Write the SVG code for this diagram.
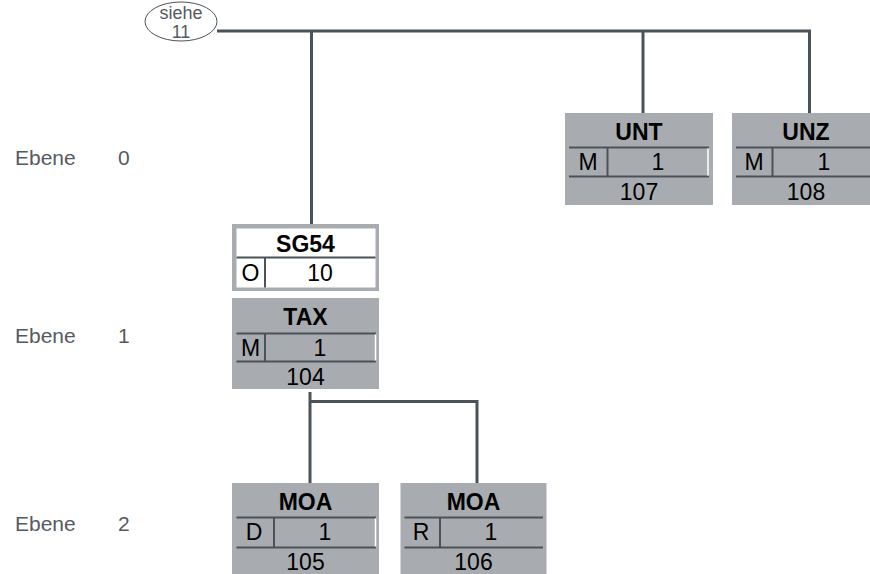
<svg xmlns="http://www.w3.org/2000/svg" width="870" height="574" viewBox="0 0 870 574">
<style>
.box{fill:#a8acb1}
.cl{stroke:#4b5258;stroke-width:2;fill:none}
.wl{stroke:#ffffff;stroke-width:1.5;fill:none}
.con{stroke:#4b5258;stroke-width:3;fill:none}
.h{font-family:"Liberation Sans",Arial,sans-serif;font-size:23px;font-weight:bold;fill:#000;text-anchor:middle}
.t{font-family:"Liberation Sans",Arial,sans-serif;font-size:23px;fill:#000;text-anchor:middle}
.lv{font-family:"Liberation Sans",Arial,sans-serif;font-size:21px;fill:#555a5f}
.el{font-family:"Liberation Sans",Arial,sans-serif;font-size:18px;fill:#555a5f;text-anchor:middle}
</style>
<rect width="870" height="574" fill="#ffffff"/>
<g id="levels">
<text class="lv" x="15" y="164.5">Ebene</text><text class="lv" x="118" y="164.5">0</text>
<text class="lv" x="15" y="342.5">Ebene</text><text class="lv" x="118" y="342.5">1</text>
<text class="lv" x="15" y="530.5">Ebene</text><text class="lv" x="118" y="530.5">2</text>
</g>
<g id="connectors">
<path class="con" d="M217,31 H811"/>
<path class="con" d="M311.5,31 V224"/>
<path class="con" d="M643,31 V113"/>
<path class="con" d="M809.5,31 V113"/>
<path class="con" d="M310,392 V483"/>
<path class="con" d="M310,401.5 H477 V483"/>
</g>
<g id="siehe">
<ellipse cx="181" cy="21.5" rx="36" ry="19.5" fill="#ffffff" stroke="#4b5258" stroke-width="1"/>
<text class="el" x="181" y="19">siehe</text>
<text class="el" x="181" y="37.5">11</text>
</g>
<g id="UNT">
<rect class="box" x="565" y="113" width="148" height="92"/>
<path class="cl" d="M569,147.5 H709 M569,176.5 H709 M607.5,147.5 V176.5"/>
<path class="wl" d="M708,148.5 V175.5"/>
<text class="h" x="639" y="140">UNT</text>
<text class="t" x="588" y="170">M</text>
<text class="t" x="658" y="170">1</text>
<text class="t" x="639" y="200">107</text>
</g>
<g id="UNZ">
<rect class="box" x="732" y="113" width="148" height="92"/>
<path class="cl" d="M736,147.5 H876 M736,176.5 H876 M772.5,147.5 V176.5"/>
<text class="h" x="806" y="140">UNZ</text>
<text class="t" x="754" y="170">M</text>
<text class="t" x="824" y="170">1</text>
<text class="t" x="806" y="200">108</text>
</g>
<g id="SG54">
<rect class="box" x="232" y="224" width="147" height="67"/>
<rect x="236.5" y="228.5" width="139" height="59" fill="#ffffff"/>
<path class="cl" d="M236.5,257.5 H375.5 M265,257.5 V287.5"/>
<text class="h" x="305.5" y="251.5">SG54</text>
<text class="t" x="250.5" y="281">O</text>
<text class="t" x="320" y="281">10</text>
</g>
<g id="TAX">
<rect class="box" x="232" y="298" width="147" height="91"/>
<path class="cl" d="M236.5,333.5 H376 M236.5,361.5 H376 M265,333.5 V361.5"/>
<path class="wl" d="M375.5,334.5 V360.5"/>
<text class="h" x="305.5" y="325">TAX</text>
<text class="t" x="250.5" y="356">M</text>
<text class="t" x="320" y="356">1</text>
<text class="t" x="305.5" y="385">104</text>
</g>
<g id="MOA105">
<rect class="box" x="232" y="483" width="147" height="91"/>
<path class="cl" d="M236.5,517.5 H376 M236.5,547.5 H376 M274,517.5 V547.5"/>
<path class="wl" d="M375.5,518.5 V546.5"/>
<text class="h" x="305.5" y="510">MOA</text>
<text class="t" x="254" y="540">D</text>
<text class="t" x="325" y="540">1</text>
<text class="t" x="305.5" y="569.5">105</text>
</g>
<g id="MOA106">
<rect class="box" x="400.5" y="483" width="146" height="91"/>
<path class="cl" d="M404.5,517.5 H543 M404.5,547.5 H543 M440,517.5 V547.5"/>
<text class="h" x="473.5" y="510">MOA</text>
<text class="t" x="421" y="540">R</text>
<text class="t" x="491" y="540">1</text>
<text class="t" x="473.5" y="569.5">106</text>
</g>
</svg>
